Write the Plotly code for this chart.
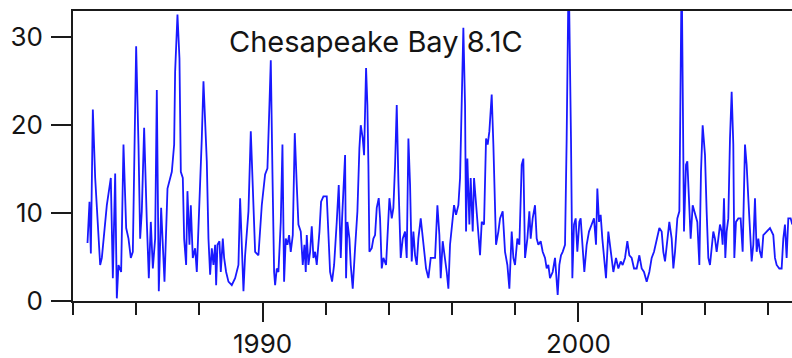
import plotly.graph_objects as go

# Decimal-year positions and values
years = [
    1984.459, 1984.522, 1984.565, 1984.628, 1984.702, 1984.860, 1984.913, 1985.071, 1985.197, 1985.261,
    1985.335, 1985.387, 1985.440, 1985.524, 1985.598, 1985.683, 1985.757, 1985.830, 1985.894, 1985.946,
    1985.999, 1986.073, 1986.126, 1986.178, 1986.252, 1986.337, 1986.400, 1986.463, 1986.527, 1986.600,
    1986.653, 1986.716, 1986.790,
    1986.896, 1986.991, 1987.128, 1987.202, 1987.233, 1987.307, 1987.370, 1987.413, 1987.476, 1987.518,
    1987.581, 1987.623, 1987.687, 1987.729, 1987.792, 1987.866, 1987.919, 1988.003, 1988.077, 1988.130,
    1988.183, 1988.235, 1988.288, 1988.341, 1988.394, 1988.446, 1988.499, 1988.531, 1988.573, 1988.636,
    1988.678, 1988.742, 1988.784, 1988.847, 1988.921, 1989.026, 1989.132, 1989.237, 1989.290, 1989.343,
    1989.396, 1989.448, 1989.554, 1989.628,
    1989.765, 1989.870, 1989.976, 1990.081, 1990.155, 1990.218, 1990.261, 1990.313, 1990.366, 1990.398,
    1990.450, 1990.503, 1990.577, 1990.630, 1990.682, 1990.735, 1990.788, 1990.841, 1990.893, 1990.957,
    1991.020, 1991.083, 1991.136, 1991.210, 1991.273, 1991.326, 1991.368, 1991.400, 1991.453, 1991.505,
    1991.558, 1991.611, 1991.663, 1991.716, 1991.801, 1991.853, 1991.927, 1992.033, 1992.085, 1992.138,
    1992.201, 1992.265, 1992.349, 1992.412, 1992.476, 1992.518,
    1992.613, 1992.644, 1992.687, 1992.750, 1992.792, 1992.855, 1992.929, 1993.003, 1993.066, 1993.109,
    1993.172, 1993.214, 1993.277, 1993.319, 1993.351, 1993.383, 1993.457, 1993.509, 1993.562, 1993.615,
    1993.678, 1993.720, 1993.773, 1993.826, 1993.910, 1993.952, 1994.016, 1994.090, 1994.142, 1994.195,
    1994.248, 1994.301, 1994.374, 1994.438, 1994.511, 1994.564, 1994.617, 1994.670, 1994.722, 1994.775,
    1994.828, 1994.881, 1994.933, 1995.007, 1995.092, 1995.176, 1995.250, 1995.324,
    1995.461, 1995.535, 1995.598, 1995.640, 1995.703, 1995.777, 1995.830, 1995.883, 1995.935, 1996.020,
    1996.062, 1996.125, 1996.199, 1996.252, 1996.305, 1996.357, 1996.410, 1996.442, 1996.484, 1996.547,
    1996.589, 1996.653, 1996.695, 1996.758, 1996.832, 1996.885, 1996.938, 1997.011, 1997.075, 1997.127,
    1997.180, 1997.254, 1997.307, 1997.338, 1997.391, 1997.465, 1997.518, 1997.602, 1997.676, 1997.750,
    1997.813, 1997.887, 1997.940, 1997.992, 1998.066, 1998.130, 1998.203,
    1998.256, 1998.309, 1998.383, 1998.446, 1998.488, 1998.551, 1998.625, 1998.678, 1998.731, 1998.805,
    1998.868, 1998.942, 1998.994, 1999.047, 1999.100, 1999.184, 1999.258, 1999.311, 1999.343, 1999.395,
    1999.448, 1999.501, 1999.575, 1999.627, 1999.690, 1999.764, 1999.807, 1999.859, 1999.912, 1999.965,
    2000.028, 2000.070, 2000.134, 2000.186, 2000.260, 2000.334, 2000.419, 2000.492, 2000.556, 2000.598,
    2000.651, 2000.703, 2000.756, 2000.809, 2000.872, 2000.946, 2000.999, 2001.062,
    2001.105, 2001.189, 2001.263, 2001.337, 2001.400, 2001.474, 2001.548, 2001.611, 2001.685, 2001.759,
    2001.843, 2001.928, 2002.002, 2002.075, 2002.160, 2002.244, 2002.318, 2002.392, 2002.476, 2002.561,
    2002.635, 2002.687, 2002.740, 2002.814, 2002.877, 2002.951, 2003.004, 2003.057, 2003.130, 2003.194,
    2003.267, 2003.341, 2003.405, 2003.447, 2003.500, 2003.552, 2003.616, 2003.689, 2003.763, 2003.827,
    2003.879, 2003.932,
    2004.006, 2004.058, 2004.111, 2004.164, 2004.217, 2004.269, 2004.322, 2004.375, 2004.428, 2004.480,
    2004.533, 2004.565, 2004.607, 2004.649, 2004.691, 2004.744, 2004.797, 2004.850, 2004.902, 2004.934,
    2004.987, 2005.061, 2005.134, 2005.198, 2005.272, 2005.324, 2005.377, 2005.430, 2005.483, 2005.535,
    2005.588, 2005.641, 2005.694, 2005.746, 2005.799, 2005.852, 2005.957, 2006.063, 2006.168, 2006.221,
    2006.274, 2006.358, 2006.432, 2006.485, 2006.537, 2006.590, 2006.643, 2006.717, 2006.769,
]

values = [
    6.6, 11.3, 5.4, 21.8, 14.0, 4.1, 4.9, 10.9, 14.0, 2.6,
    14.5, 0.3, 4.1, 3.3, 17.8, 8.3, 7.1, 4.9, 5.6, 17.8,
    29.0, 17.8, 7.1, 10.2, 19.7, 9.0, 2.6, 9.0, 3.7, 7.1,
    24.0, 1.1, 10.6,
    2.2, 12.8, 14.7, 17.8, 26.1, 32.6, 27.6, 14.7, 14.0, 7.1,
    4.1, 12.5, 6.4, 10.9, 4.9, 6.0, 3.3, 10.9, 18.5, 25.0,
    21.2, 15.9, 7.1, 3.0, 6.0, 4.1, 6.4, 1.8, 6.4, 6.8,
    3.3, 7.1, 4.9, 3.3, 2.2, 1.8, 2.6, 4.1, 11.7, 5.6,
    1.1, 5.2, 10.2, 19.3,
    5.6, 5.2, 10.9, 14.4, 15.1, 22.3, 27.4, 14.7, 3.3, 1.8,
    3.7, 3.3, 9.0, 17.8, 2.2, 7.1, 6.4, 7.5, 5.6, 7.5,
    19.1, 13.2, 8.7, 7.9, 4.1, 6.4, 3.3, 7.5, 4.1, 5.6,
    8.5, 4.9, 5.6, 4.1, 7.9, 11.3, 11.9, 11.9, 7.5, 3.3,
    2.2, 4.1, 9.0, 13.2, 4.9, 9.4,
    16.6, 2.6, 9.0, 7.1, 4.1, 1.4, 6.0, 10.2, 17.4, 20.0,
    18.5, 16.6, 26.5, 22.3, 15.5, 5.6, 6.0, 7.1, 7.5, 10.6,
    11.7, 9.4, 3.7, 4.9, 4.1, 7.1, 11.7, 9.4, 10.6, 15.5,
    22.3, 13.6, 4.9, 7.1, 7.9, 4.9, 18.5, 13.2, 4.5, 7.9,
    5.2, 4.1, 7.1, 9.4, 6.4, 3.7, 2.6, 4.9,
    4.9, 10.9, 7.5, 2.6, 6.8, 4.9, 3.3, 1.4, 6.4, 9.4,
    10.9, 9.8, 10.9, 14.0, 22.3, 31.1, 22.3, 7.9, 16.2, 8.7,
    14.0, 7.9, 14.0, 10.9, 7.1, 5.2, 9.0, 8.7, 18.5, 17.8,
    19.3, 23.5, 17.8, 14.0, 6.4, 7.9, 9.4, 10.2, 5.6, 4.1,
    1.4, 7.9, 4.9, 4.1, 7.1, 6.4, 15.5,
    16.2, 4.9, 7.1, 10.2, 7.1, 9.4, 10.9, 7.1, 6.4, 6.8,
    5.6, 4.9, 3.7, 4.1, 2.6, 3.3, 4.9, 2.2, 0.7, 4.1,
    5.2, 5.6, 6.4, 18.5, 38.0, 18.5, 2.6, 8.7, 9.4, 5.6,
    9.0, 9.4, 5.6, 3.3, 6.4, 7.9, 8.7, 9.4, 6.4, 12.8,
    9.0, 9.8, 7.1, 4.9, 2.6, 7.9, 6.4, 4.5,
    3.3, 4.9, 3.7, 4.5, 4.1, 4.9, 6.8, 5.2, 4.9, 3.7,
    3.7, 5.2, 3.7, 3.3, 2.2, 3.3, 4.9, 5.6, 7.1, 8.3,
    7.9, 5.6, 4.5, 7.1, 9.0, 7.1, 3.7, 5.6, 9.4, 10.2,
    38.0, 7.9, 15.5, 15.9, 11.7, 7.1, 10.9, 9.8, 9.0, 4.1,
    14.7, 20.0,
    16.6, 10.2, 4.9, 4.1, 6.4, 7.9, 7.1, 5.6, 7.1, 8.7,
    7.9, 6.4, 11.7, 4.9, 7.9, 9.4, 18.5, 23.8, 17.8, 4.9,
    9.0, 9.4, 9.4, 5.6, 17.8, 15.5, 11.7, 7.1, 4.5, 6.4,
    11.7, 5.6, 7.1, 5.6, 4.9, 7.5, 7.9, 8.3, 7.5, 4.9,
    4.1, 3.7, 3.7, 7.1, 8.7, 4.9, 9.4, 9.4, 8.7,
]

y_ticks = [0, 10, 20, 30]
x_major_ticks = [1990, 2000]
x_major_labels = ["1990", "2000"]
x_minor_ticks = [1984, 1986, 1988, 1992, 1994, 1996, 1998, 2002, 2004, 2006]
label_text = "Chesapeake Bay 8.1C"

FONT = "Inter, Liberation Sans, Arial, sans-serif"
AX = "#1a1a1a"
TXT = "#141414"

fig = go.Figure()
fig.add_trace(go.Scatter(
    x=years, y=values, mode="lines",
    line=dict(color="rgb(25,25,255)", width=1.8),
    hoverinfo="skip", showlegend=False,
))

fig.update_layout(
    width=792, height=358,
    margin=dict(l=73, r=0, t=11, b=57),
    paper_bgcolor="white", plot_bgcolor="white",
    font=dict(family=FONT, size=26, color=TXT),
    showlegend=False,
    annotations=[dict(
        text=label_text, xref="paper", yref="paper",
        x=0.214, y=0.895, xanchor="left", yanchor="middle",
        showarrow=False, font=dict(family=FONT, size=29, color=TXT),
    )],
)

fig.update_xaxes(
    range=[1984.0, 2006.76],
    showgrid=False, zeroline=False,
    showline=True, linecolor=AX, linewidth=1.8, mirror=True,
    tickmode="array", tickvals=x_major_ticks, ticktext=x_major_labels,
    ticks="outside", ticklen=19, tickwidth=1.8, tickcolor=AX,
    tickfont=dict(family=FONT, size=26, color=TXT),
    minor=dict(tickmode="array", tickvals=x_minor_ticks, ticks="outside",
               ticklen=12, tickwidth=1.8, tickcolor=AX, showgrid=False),
)

fig.update_yaxes(
    range=[0, 33],
    showgrid=False, zeroline=False,
    showline=True, linecolor=AX, linewidth=1.8, mirror=False,
    tickmode="array", tickvals=y_ticks,
    ticks="outside", ticklen=20, tickwidth=1.8, tickcolor=AX,
    tickfont=dict(family=FONT, size=26, color=TXT),
    ticklabelstandoff=3,
)

fig.write_html("out.html")
